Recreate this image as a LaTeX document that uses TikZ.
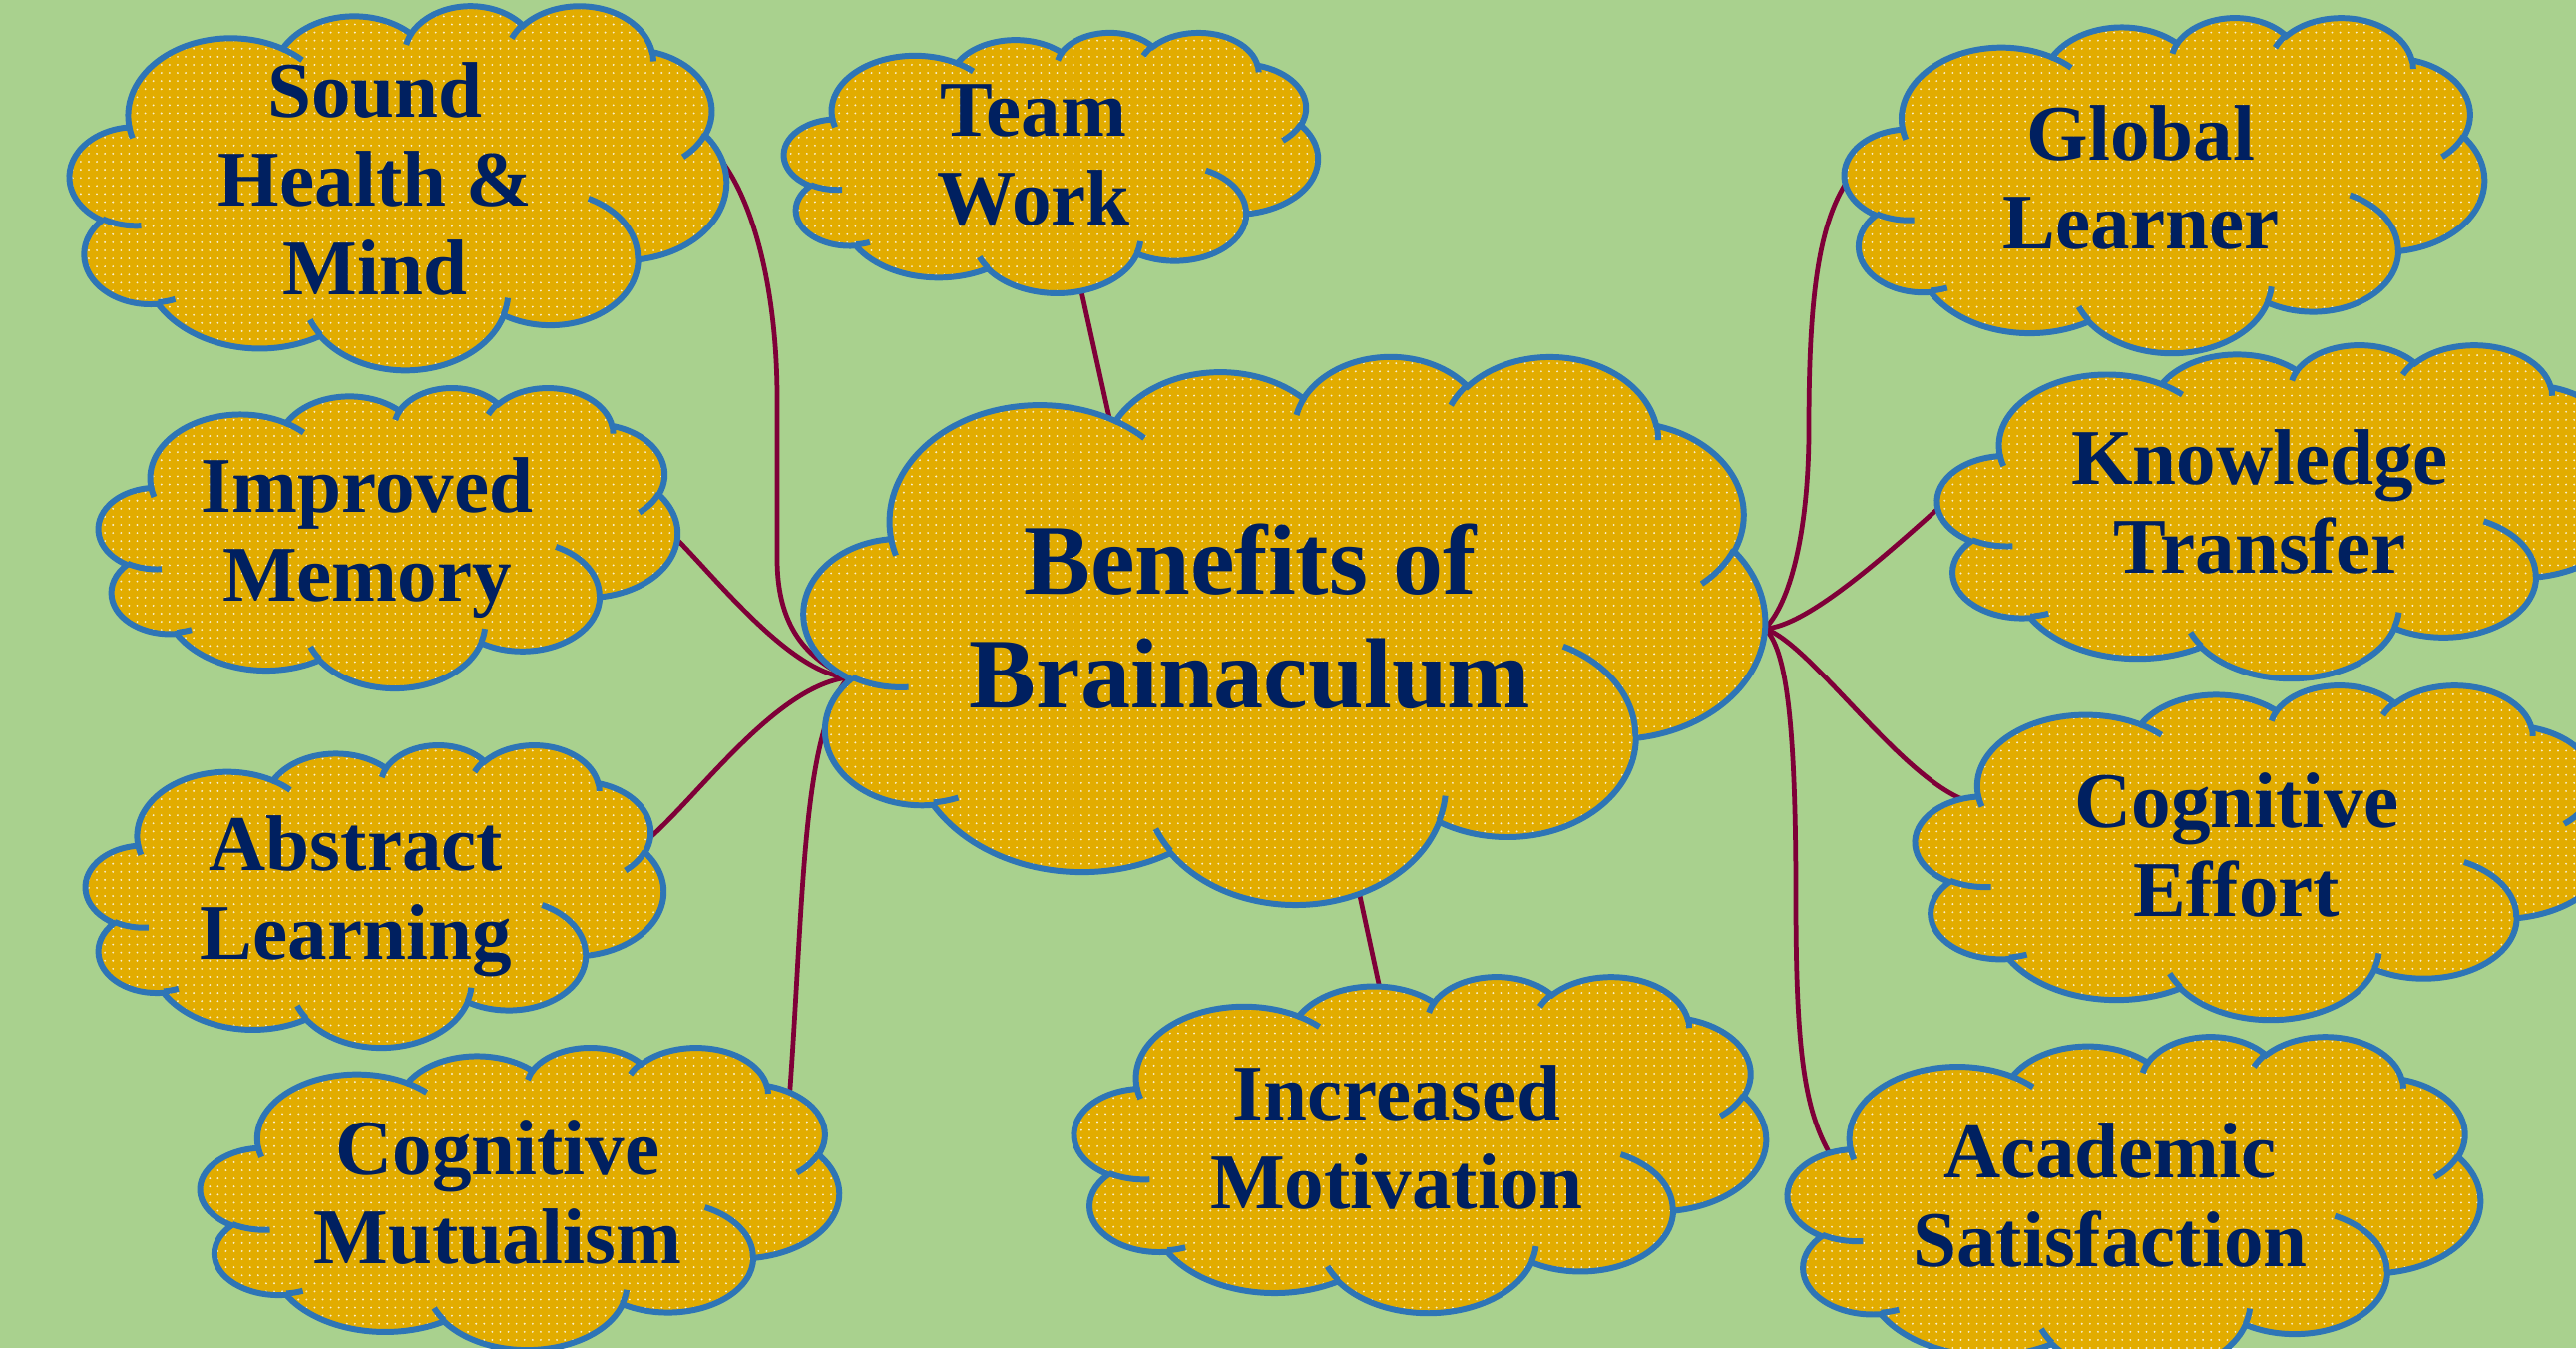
\documentclass[tikz,border=0pt]{standalone}
\usepackage{fontspec}
\setmainfont{Liberation Serif}
\usetikzlibrary{patterns}

\definecolor{meadow}{HTML}{A9D18E}
\definecolor{cloudgold}{HTML}{E2AC00}
\definecolor{cloudrim}{HTML}{2E75B6}
\definecolor{inkblue}{HTML}{002060}
\definecolor{stemred}{HTML}{7F0038}

\pgfdeclarelayer{paper}
\pgfdeclarelayer{stems}
\pgfsetlayers{paper,stems,main}

\pgfdeclarepatternformonly{speckle}{\pgfqpoint{-0.5pt}{-0.5pt}}{\pgfqpoint{0.5pt}{0.5pt}}{\pgfqpoint{2.3pt}{2.3pt}}{%
  \pgfpathcircle{\pgfpointorigin}{0.3pt}\pgfusepath{fill}}

% one puff: x radius, y radius, start and sweep as seen from the centre
\newcommand\puff[4]{%
  arc[x radius=#1, y radius=#2,
      start angle={atan2(#1*sin(#3),#2*cos(#3))},
      delta angle={mod(atan2(#1*sin(#3+#4),#2*cos(#3+#4))-atan2(#1*sin(#3),#2*cos(#3))+720,360)}]}

% cloud on a 432 x 432 grid, put in the box left, top, width, height
\newcommand\cloudat[4]{%
  \begin{scope}[x={({#3/432*0.01cm},0pt)}, y={(0pt,{-#4/432*0.01cm})},
                shift={({#1*0.01cm},{-#2*0.01cm})}]
    \path[puffed] (39,143.7)
      \puff{67.53}{91.90}{-190.4875}{123.7805}
      \puff{53.33}{72.67}{-144.1024}{89.9452}
      \puff{43.65}{59.45}{-145.8079}{99.7230}
      \puff{48.57}{65.95}{-130.9861}{117.2417}
      \puff{53.33}{72.73}{-78.7089}{109.0269}
      \puff{67.75}{92.20}{-46.2673}{130.2690}
      \puff{57.85}{78.67}{0.6250}{114.0333}
      \puff{67.52}{92.15}{22.4516}{115.1726}
      \puff{77.20}{105.43}{66.2426}{75.7110}
      \puff{43.60}{59.18}{-274.9421}{146.7356}
      \puff{43.45}{59.45}{-246.8285}{152.5189}
      -- cycle;
    \path[puffrim]
      (46.93,261.77)  \puff{43.45}{59.45}{86.7420}{26.4295}
      (69.28,348.99)  \puff{43.60}{59.18}{73.6105}{11.4475}
      (164.78,390.90) \puff{67.52}{92.15}{137.6242}{14.0811}
      (288.27,347.51) \puff{67.52}{92.15}{6.4533}{15.9984}
      (341.29,229.54) \puff{57.85}{78.67}{-70.2924}{70.9174}
      (417.98,153.54) \puff{53.33}{72.73}{30.3180}{27.7515}
      (383.24,54.26)  \puff{48.57}{65.95}{-13.7443}{14.8589}
      (290.78,39.52)  \puff{48.57}{65.95}{-149.1815}{18.1954}
      (221.41,47.20)  \puff{43.65}{59.45}{-163.4943}{17.6864}
      (140.00,51.92)  \puff{67.53}{91.90}{-66.7070}{12.3194}
      (41.27,157.89)  \puff{67.53}{91.90}{157.6544}{11.8582};
  \end{scope}}

\begin{document}
\begin{tikzpicture}[x=0.01cm, y=-0.01cm,
      puffed/.style  = {draw=cloudrim, line width=1.7pt, preaction={fill=cloudgold},
                        pattern=speckle, pattern color=white!80!cloudgold},
      puffrim/.style = {draw=cloudrim, line width=1.7pt},
      benefit/.style = {text=inkblue, align=center, font=\bfseries\fontsize{22.5}{25.3}\selectfont},
      topic/.style   = {benefit, font=\bfseries\fontsize{28.5}{32.3}\selectfont},
      stem/.style    = {draw=stemred, line width=1.35pt}
    ]
    \useasboundingbox (0,0) rectangle (2582,1351);
    \begin{pgfonlayer}{paper}
      \fill[meadow] (0,0) rectangle (2582,1351);
    \end{pgfonlayer}

    \cloudat{70}{5}{658}{365}
    \cloudat{786}{32}{535}{261}
    \cloudat{1849}{17}{641}{336}
    \cloudat{806}{356}{963}{549}
    \cloudat{99}{388}{580}{301}
    \cloudat{1942}{345}{693}{334}
    \cloudat{86}{746}{579}{303}
    \cloudat{1920}{686}{696}{335}
    \cloudat{201}{1049}{640}{303}
    \cloudat{1077}{978}{693}{337}
    \cloudat{1792}{1038}{694}{340}

    \node[topic]   (benefits)             at (1253,618)  {Benefits of\\Brainaculum};
    \node[benefit] (soundhealth)          at (376,179)   {Sound\\Health \&\\Mind};
    \node[benefit] (teamwork)             at (1036,156)  {Team\\Work};
    \node[benefit] (globallearner)        at (2146,178)  {Global\\Learner};
    \node[benefit] (improvedmemory)       at (368,539)   {Improved\\Memory};
    \node[benefit] (knowledgetransfer)    at (2265,503)  {Knowledge\\Transfer};
    \node[benefit] (abstractlearning)     at (357,898)   {Abstract\\Learning};
    \node[benefit] (cognitiveeffort)      at (2242,847)  {Cognitive\\Effort};
    \node[benefit] (cognitivemutualism)   at (499,1195)  {Cognitive\\Mutualism};
    \node[benefit] (increasedmotivation)  at (1400,1140) {Increased\\Motivation};
    \node[benefit] (academicsatisfaction) at (2115,1198) {Academic\\Satisfaction};

    \coordinate (lefthub)  at (850,679);
    \coordinate (righthub) at (1769,630);

    \begin{pgfonlayer}{stems}
    \draw[stem] ([shift={(42,109)}]teamwork.center) -- ([shift={(-137,-181)}]benefits.center);
    \draw[stem] ([shift={(104,252)}]benefits.center) -- ([shift={(-15,-140)}]increasedmotivation.center);

    \draw[stem] (soundhealth.center) -- ([shift={(329,-37)}]soundhealth.center)
      .. controls (750,177) and (779,280) .. (779,400) -- (779,560)
      .. controls (779,635) and (815,662) .. (lefthub);
    \draw[stem] (improvedmemory.center) -- ([shift={(304,-5)}]improvedmemory.center)
      .. controls (712,572) and (790,675) .. (lefthub);
    \draw[stem] (abstractlearning.center) -- ([shift={(288,-53)}]abstractlearning.center)
      .. controls (695,805) and (775,688) .. (lefthub);
    \draw[stem] (cognitivemutualism.center) -- ([shift={(292,-91)}]cognitivemutualism.center)
      .. controls (806,900) and (803,740) .. (lefthub);

    \draw[stem] (globallearner.center) -- ([shift={(-290,-3)}]globallearner.center)
      .. controls (1822,220) and (1813,300) .. (1813,430)
      .. controls (1813,520) and (1798,600) .. (righthub);
    \draw[stem] (knowledgetransfer.center) -- ([shift={(-315,0)}]knowledgetransfer.center)
      .. controls (1895,552) and (1812,628) .. (righthub);
    \draw[stem] (cognitiveeffort.center) -- ([shift={(-270,-44)}]cognitiveeffort.center)
      .. controls (1905,780) and (1815,645) .. (righthub);
    \draw[stem] (academicsatisfaction.center) -- ([shift={(-280,-40)}]academicsatisfaction.center)
      .. controls (1808,1112) and (1800,1050) .. (1800,900)
      .. controls (1800,720) and (1790,650) .. (righthub);
    \end{pgfonlayer}
  \end{tikzpicture}
\end{document}
